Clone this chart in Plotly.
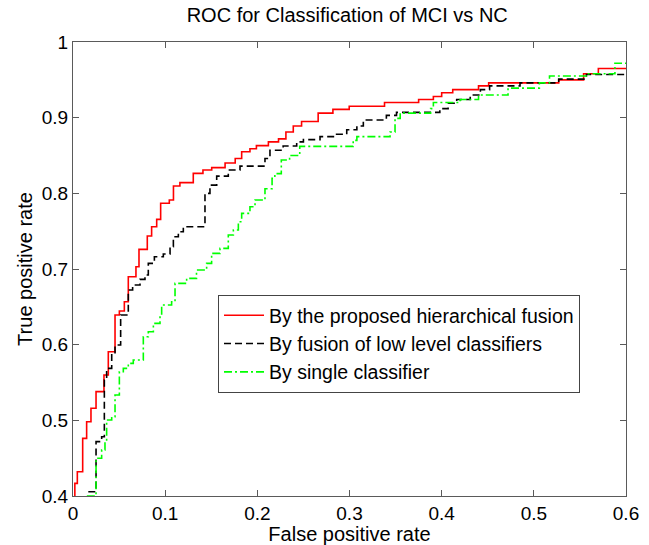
import plotly.graph_objects as go

# ROC curves (false positive rate, true positive rate)
red_fpr = [0.002, 0.002, 0.0047, 0.0105, 0.0148, 0.0195, 0.025, 0.0336, 0.0383, 0.0456, 0.0503,
           0.0557, 0.06, 0.0683, 0.0716, 0.0806, 0.0853, 0.0908, 0.0951, 0.1045, 0.109, 0.116,
           0.1305, 0.141, 0.1505, 0.165, 0.176, 0.183, 0.192, 0.199, 0.212, 0.223, 0.231, 0.239,
           0.248, 0.266, 0.282, 0.2997, 0.338, 0.375, 0.391, 0.40, 0.412, 0.44, 0.451, 0.527,
           0.554, 0.570, 0.60]
red_tpr = [0.400, 0.4167, 0.4321, 0.4762, 0.4982, 0.5159, 0.5379, 0.5599, 0.5907, 0.6392, 0.6445,
           0.6568, 0.6898, 0.703, 0.726, 0.7436, 0.7559, 0.7656, 0.7868, 0.7912, 0.8097, 0.8141,
           0.8264, 0.8308, 0.834, 0.840, 0.846, 0.855, 0.859, 0.863, 0.868, 0.872, 0.881, 0.889,
           0.895, 0.906, 0.911, 0.915, 0.920, 0.924, 0.928, 0.933, 0.937, 0.942, 0.946, 0.950,
           0.958, 0.965, 0.965]

black_fpr = [0.0166, 0.025, 0.0311, 0.034, 0.0365, 0.042, 0.0456, 0.0517, 0.06, 0.0647, 0.0727,
             0.0781, 0.0817, 0.0883, 0.098, 0.1053, 0.1089, 0.1143, 0.1197, 0.1432, 0.1486,
             0.1559, 0.1685, 0.1812, 0.2083, 0.2137, 0.228, 0.2427, 0.25, 0.268, 0.286, 0.297,
             0.308, 0.315, 0.34, 0.351, 0.398, 0.407, 0.4163, 0.431, 0.442, 0.452, 0.485, 0.527,
             0.557, 0.60]
black_tpr = [0.4057, 0.4718, 0.4784, 0.5533, 0.5687, 0.5877, 0.5996, 0.6392, 0.6722, 0.6788,
             0.6863, 0.692, 0.7074, 0.7162, 0.7198, 0.7295, 0.7427, 0.7493, 0.7559, 0.7999,
             0.8109, 0.8228, 0.8308, 0.836, 0.846, 0.857, 0.8625, 0.868, 0.871, 0.875, 0.878,
             0.884, 0.889, 0.897, 0.903, 0.907, 0.912, 0.919, 0.924, 0.930, 0.937, 0.942, 0.946,
             0.951, 0.957, 0.957]

green_fpr = [0.015, 0.025, 0.0311, 0.0347, 0.0365, 0.042, 0.0456, 0.0503, 0.0546, 0.06, 0.0654,
             0.0763, 0.0817, 0.0872, 0.0944, 0.0962, 0.107, 0.1107, 0.1233, 0.134, 0.145, 0.1504,
             0.1595, 0.1685, 0.174, 0.1794, 0.183, 0.192, 0.1975, 0.2083, 0.216, 0.219, 0.226,
             0.235, 0.246, 0.304, 0.308, 0.344, 0.3494, 0.355, 0.388, 0.391, 0.42, 0.44, 0.472,
             0.506, 0.517, 0.557, 0.588, 0.60]
green_tpr = [0.400, 0.4498, 0.461, 0.474, 0.5004, 0.5048, 0.5334, 0.5643, 0.5687, 0.5753, 0.5797,
             0.6105, 0.6171, 0.6281, 0.6392, 0.6524, 0.6568, 0.681, 0.6876, 0.6986, 0.7074,
             0.7206, 0.7272, 0.7449, 0.7515, 0.7625, 0.7735, 0.7823, 0.7911, 0.806, 0.820, 0.826,
             0.844, 0.850, 0.862, 0.870, 0.875, 0.881, 0.899, 0.906, 0.912, 0.920, 0.924, 0.930,
             0.939, 0.946, 0.955, 0.958, 0.972, 0.972]

series_names = ["By the proposed hierarchical fusion",
                "By fusion of low level classifiers",
                "By single classifier"]

x_ticks = [0, 0.1, 0.2, 0.3, 0.4, 0.5, 0.6]
y_ticks = [0.4, 0.5, 0.6, 0.7, 0.8, 0.9, 1.0]

FONT = "Liberation Sans, Arial, sans-serif"
AX = "#5a5a5a"

fig = go.Figure()
fig.add_trace(go.Scatter(x=red_fpr, y=red_tpr, mode="lines", name=series_names[0],
                         line=dict(color="#ff0000", width=1.6, shape="hv")))
fig.add_trace(go.Scatter(x=black_fpr, y=black_tpr, mode="lines", name=series_names[1],
                         line=dict(color="#000000", width=1.6, shape="hv", dash="7px,4px")))
fig.add_trace(go.Scatter(x=green_fpr, y=green_tpr, mode="lines", name=series_names[2],
                         line=dict(color="#00ff00", width=1.6, shape="hv", dash="8px,3px,2px,3px")))

axis_common = dict(showgrid=False, zeroline=False, showline=True, linecolor=AX, linewidth=1.2,
                   mirror="ticks", ticks="inside", ticklen=6, tickcolor=AX, tickwidth=1,
                   tickfont=dict(family=FONT, size=19, color="#000"))

fig.update_xaxes(range=[0, 0.6], tickvals=x_ticks, ticktext=[f"{v:g}" for v in x_ticks],
                 title=dict(text="False positive rate", font=dict(family=FONT, size=20, color="#000"),
                            standoff=4),
                 **axis_common)
fig.update_yaxes(range=[0.4, 1.0], tickvals=y_ticks, ticktext=[f"{v:g}" for v in y_ticks],
                 title=dict(text="True positive rate", font=dict(family=FONT, size=20, color="#000"),
                            standoff=3),
                 **axis_common)

fig.update_layout(
    width=649, height=545,
    margin=dict(l=73, r=23, t=42, b=49, autoexpand=False),
    paper_bgcolor="white", plot_bgcolor="white",
    title=dict(text="ROC for Classification of MCI vs NC", x=0.535, xanchor="center",
               y=1 - 15 / 545, yanchor="middle",
               font=dict(family=FONT, size=20, color="#000")),
    legend=dict(x=(218 - 73) / 553, y=(496 - 295) / 454, xanchor="left", yanchor="top",
                bgcolor="white", bordercolor="#444", borderwidth=1,
                font=dict(family=FONT, size=19.5, color="#000"),
                tracegroupgap=0, itemwidth=40),
    showlegend=True,
)

fig.write_html("out.html")
